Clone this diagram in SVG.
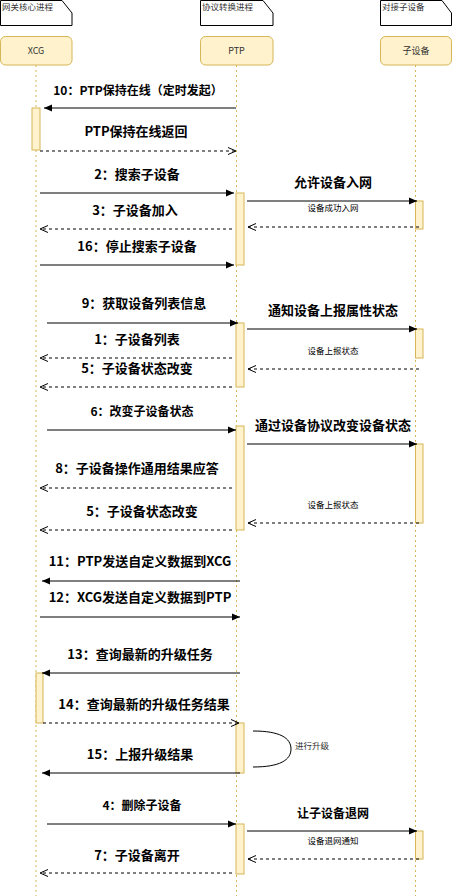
<svg xmlns="http://www.w3.org/2000/svg" width="452" height="896" viewBox="0 0 452 896">
<style>
.note{fill:#fff;stroke:#000;stroke-width:1}
.hdr{fill:#fff2cc;stroke:#d6b656;stroke-width:1}
.act{fill:#fff2cc;stroke:#d6b656;stroke-width:1}
.life{stroke:#d6b656;stroke-width:1;stroke-dasharray:2 3;fill:none}
.sol{stroke:#000;stroke-width:1;fill:none;marker-end:url(#blk)}
.dsh{stroke:#000;stroke-width:1;fill:none;stroke-dasharray:3 3;marker-end:url(#opn)}
text{font-family:"Noto Sans CJK SC","Noto Sans",sans-serif}
.nt{font-size:8.5px;fill:#333}
.ht{font-size:9px;fill:#333;text-anchor:middle}
.lb{font-size:13px;font-weight:bold;fill:#000;text-anchor:middle}
.lb12{font-size:12px;font-weight:bold;fill:#000;text-anchor:middle}
.sm{font-size:8.5px;fill:#000;text-anchor:middle}
</style>
<defs>
<marker id="blk" markerUnits="userSpaceOnUse" markerWidth="10" markerHeight="10" refX="8" refY="4" orient="auto"><path d="M0,0.5 L8,4 L0,7.5 Z" fill="#000"/></marker>
<marker id="opn" markerUnits="userSpaceOnUse" markerWidth="10" markerHeight="10" refX="8" refY="4" orient="auto"><path d="M0,0.5 L8,4 L0,7.5" fill="none" stroke="#000" stroke-width="1"/></marker>
</defs>
<rect width="452" height="896" fill="#fff"/>
<g id="note-xcg"><path class="note" d="M0.5,0.5 H62 L72,13 V25.5 H0.5 Z"/><text class="nt" x="2" y="9.5">网关核心进程</text></g>
<g id="note-ptp"><path class="note" d="M200.5,0.5 H263 L273,13 V25.5 H200.5 Z"/><text class="nt" x="202" y="9.5">协议转换进程</text></g>
<g id="note-sub"><path class="note" d="M380.5,0.5 H442 L451.5,13 V25.5 H380.5 Z"/><text class="nt" x="382" y="9.5">对接子设备</text></g>
<g id="lifelines">
<line class="life" x1="36" y1="65" x2="36" y2="896"/>
<line class="life" x1="236.5" y1="65" x2="236.5" y2="896"/>
<line class="life" x1="415.5" y1="65" x2="415.5" y2="896"/>
</g>
<g id="xcg"><rect class="hdr" x="0.5" y="36.5" width="71.5" height="28.5" rx="5"/><text class="ht" x="36" y="54">XCG</text></g>
<g id="ptp"><rect class="hdr" x="200.5" y="36.5" width="72.5" height="28.5" rx="5"/><text class="ht" x="236.5" y="54">PTP</text></g>
<g id="sub"><rect class="hdr" x="380.5" y="36.5" width="71" height="28.5" rx="5"/><text class="ht" x="416" y="54">子设备</text></g>
<g id="activations">
<rect class="act" x="32" y="108" width="8" height="42"/>
<rect class="act" x="236" y="193" width="8" height="72"/>
<rect class="act" x="415.5" y="201" width="7.5" height="28"/>
<rect class="act" x="236" y="323" width="8" height="64"/>
<rect class="act" x="415.5" y="329" width="7.5" height="29"/>
<rect class="act" x="236" y="426" width="8" height="104"/>
<rect class="act" x="415.5" y="444" width="7.5" height="79"/>
<rect class="act" x="36" y="673" width="7" height="50"/>
<rect class="act" x="236" y="723" width="8" height="50"/>
<rect class="act" x="236" y="824" width="8" height="50"/>
<rect class="act" x="415.5" y="831" width="7.5" height="28"/>
</g>
<g id="connectors">
<line class="sol" x1="236" y1="108" x2="44" y2="108"/>
<line class="dsh" x1="40" y1="151" x2="236" y2="151"/>
<line class="sol" x1="40" y1="193" x2="234" y2="193"/>
<line class="sol" x1="247" y1="201" x2="417" y2="201"/>
<line class="dsh" x1="419" y1="227" x2="248" y2="227"/>
<line class="dsh" x1="232" y1="229" x2="40" y2="229"/>
<line class="sol" x1="40" y1="265" x2="234" y2="265"/>
<line class="sol" x1="47" y1="323" x2="238" y2="323"/>
<line class="sol" x1="247" y1="329" x2="417" y2="329"/>
<line class="dsh" x1="232" y1="358" x2="40" y2="358"/>
<line class="dsh" x1="419" y1="369" x2="248" y2="369"/>
<line class="dsh" x1="232" y1="387" x2="40" y2="387"/>
<line class="sol" x1="47" y1="430" x2="236" y2="430"/>
<line class="sol" x1="247" y1="444" x2="417" y2="444"/>
<line class="dsh" x1="232" y1="488" x2="40" y2="488"/>
<line class="dsh" x1="419" y1="523" x2="248" y2="523"/>
<line class="dsh" x1="232" y1="530" x2="40" y2="530"/>
<line class="sol" x1="240" y1="581" x2="42" y2="581"/>
<line class="sol" x1="40" y1="617" x2="240" y2="617"/>
<line class="sol" x1="240" y1="673" x2="42" y2="673"/>
<line class="dsh" x1="43" y1="723" x2="239" y2="723"/>
<path d="M253,731 C280,731 291,738 291,749 C291,760 280,767 253,767" fill="none" stroke="#000" stroke-width="1"/>
<line class="sol" x1="240" y1="773" x2="42" y2="773"/>
<line class="sol" x1="47" y1="824" x2="236" y2="824"/>
<line class="sol" x1="247" y1="831" x2="417" y2="831"/>
<line class="dsh" x1="419" y1="859" x2="248" y2="859"/>
<line class="dsh" x1="232" y1="873" x2="40" y2="873"/>
</g>
<g id="labels">
<text class="lb12" x="138" y="94.5">10：PTP保持在线（定时发起）</text>
<text class="lb" x="136" y="135.5">PTP保持在线返回</text>
<text class="lb" x="137" y="178.5">2：搜索子设备</text>
<text class="lb" x="333" y="186.5">允许设备入网</text>
<text class="sm" x="333" y="211">设备成功入网</text>
<text class="lb" x="135" y="214.5">3：子设备加入</text>
<text class="lb" x="137" y="250.5">16：停止搜索子设备</text>
<text class="lb" x="144" y="307.5">9：获取设备列表信息</text>
<text class="lb" x="333" y="314.5">通知设备上报属性状态</text>
<text class="lb" x="137" y="343.5">1：子设备列表</text>
<text class="sm" x="333" y="354">设备上报状态</text>
<text class="lb" x="137" y="372.5">5：子设备状态改变</text>
<text class="lb12" x="142" y="416">6：改变子设备状态</text>
<text class="lb" x="333" y="429.5">通过设备协议改变设备状态</text>
<text class="lb" x="137" y="472.5">8：子设备操作通用结果应答</text>
<text class="sm" x="333" y="508">设备上报状态</text>
<text class="lb" x="142" y="515.5">5：子设备状态改变</text>
<text class="lb" x="140" y="565.5">11：PTP发送自定义数据到XCG</text>
<text class="lb" x="140" y="601.5">12：XCG发送自定义数据到PTP</text>
<text class="lb" x="140" y="658.5">13：查询最新的升级任务</text>
<text class="lb" x="144" y="708.5">14：查询最新的升级任务结果</text>
<text class="nt" x="295" y="749" fill="#000">进行升级</text>
<text class="lb" x="140" y="758.5">15：上报升级结果</text>
<text class="lb12" x="142" y="810">4：删除子设备</text>
<text class="lb12" x="333" y="817.5">让子设备退网</text>
<text class="sm" x="333" y="844">设备退网通知</text>
<text class="lb" x="137" y="859.5">7：子设备离开</text>
</g>
</svg>
